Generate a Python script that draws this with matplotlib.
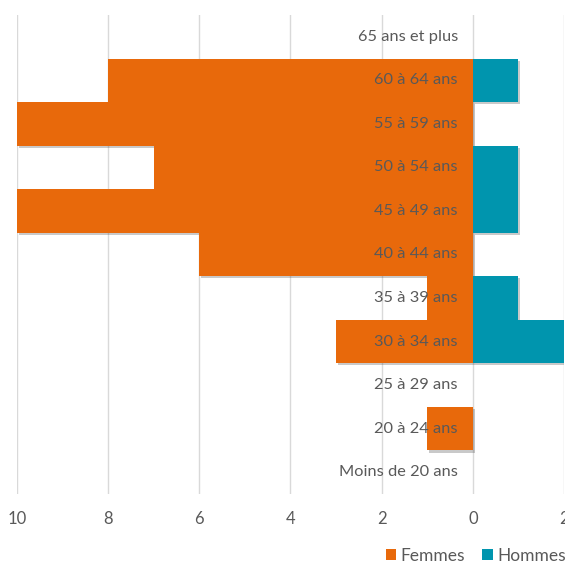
import numpy as np
import matplotlib
matplotlib.use('Agg')
import matplotlib.pyplot as plt
import matplotlib.patheffects as pe

ages = ['Moins de 20 ans', '20 à 24 ans', '25 à 29 ans', '30 à 34 ans',
        '35 à 39 ans', '40 à 44 ans', '45 à 49 ans', '50 à 54 ans',
        '55 à 59 ans', '60 à 64 ans', '65 ans et plus']
femmes = [0, 1, 0, 3, 1, 6, 10, 7, 10, 8, 0]
hommes = [0, 0, 0, 2, 1, 0, 1, 1, 0, 1, 0]
xticks = [-10, -8, -6, -4, -2, 0, 2]

orange = '#E8690B'
teal = '#0095AE'
grey = '#595959'

plt.rcParams['font.family'] = ['Lato', 'DejaVu Sans']

fig = plt.figure(figsize=(5.65, 5.63), dpi=100)
ax = fig.add_axes([0.0301, 0.1226, 0.9681, 0.8508])

y = np.arange(len(ages))
fneg = -np.array(femmes)

# shadows first (only the outer outline shows), then the bars on top
shadow = [pe.SimplePatchShadow(offset=(1.5, -1.5), alpha=0.3)]
for vals in (fneg, hommes):
    sb = ax.barh(y, vals, height=1.0, color='none', zorder=2)
    for p in sb:
        p.set_facecolor('k')
        p.set_path_effects(shadow)
        p.set_alpha(0.0)
bf = ax.barh(y, fneg, height=1.0, color=orange, label='Femmes', zorder=3)
bh = ax.barh(y, hommes, height=1.0, color=teal, label='Hommes', zorder=3)

for yi, name in zip(y, ages):
    ax.text(-0.33, yi, name, ha='right', va='center', fontsize=11.8, color=grey, zorder=4)

ax.set_xlim(-10, 2)
ax.set_ylim(-0.5, 10.5)
ax.set_xticks(xticks)
ax.set_xticklabels([str(abs(v)) for v in xticks])
ax.set_yticks([])
ax.grid(axis='x', color='#d9d9d9', linewidth=1, zorder=0)
ax.set_axisbelow(True)
for s in ax.spines.values():
    s.set_visible(False)
ax.tick_params(axis='x', length=0, pad=12, labelsize=12, labelcolor=grey)

fig.legend(handles=[bf, bh], labels=['Femmes', 'Hommes'], loc='lower right',
           bbox_to_anchor=(1.029, -0.029), ncol=2, frameon=False, fontsize=12.5,
           handlelength=0.6, handleheight=0.6, handletextpad=0.25, columnspacing=1.0,
           labelcolor=grey)

fig.savefig('out.png', dpi=100)
